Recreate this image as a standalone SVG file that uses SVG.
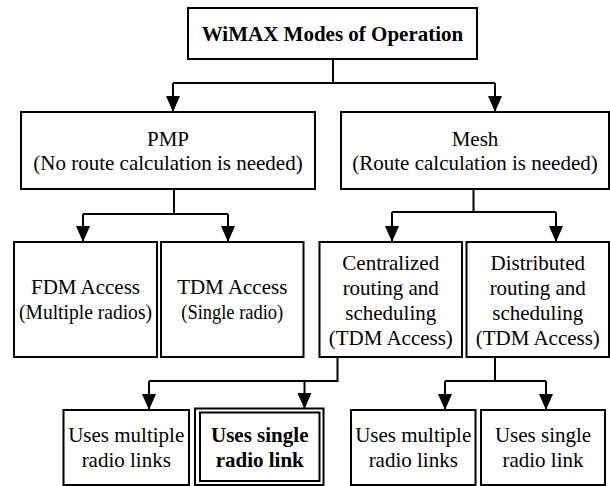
<svg xmlns="http://www.w3.org/2000/svg" width="610" height="486" viewBox="0 0 610 486">
<defs>
<marker id="arr" viewBox="0 0 16 14" refX="16" refY="7" markerWidth="16" markerHeight="14" markerUnits="userSpaceOnUse" orient="auto">
<path d="M0,0 L16,7 L0,14 z" fill="#000"/>
</marker>
<style>
.box{fill:#fff;stroke:#000;stroke-width:2}
text{font-family:"Liberation Serif","Times New Roman",Times,serif;font-size:21px;fill:#000;text-anchor:middle}
.b{font-weight:bold}
.c{fill:none;stroke:#000;stroke-width:2}
</style>
</defs>
<rect width="610" height="486" fill="#fff"/>
<g id="connectors">
<path class="c" d="M333,59 V83 M173,83 H495"/>
<path class="c" d="M173,83 V112" marker-end="url(#arr)"/>
<path class="c" d="M495,83 V112" marker-end="url(#arr)"/>
<path class="c" d="M174,189 V214 M83,214 H228"/>
<path class="c" d="M83,214 V242" marker-end="url(#arr)"/>
<path class="c" d="M228,214 V242" marker-end="url(#arr)"/>
<path class="c" d="M473.5,189 V212 M392,212 H556"/>
<path class="c" d="M392,212 V242" marker-end="url(#arr)"/>
<path class="c" d="M556,212 V242" marker-end="url(#arr)"/>
<path class="c" d="M337.5,357 V381 H149"/>
<path class="c" d="M149,381 V410" marker-end="url(#arr)"/>
<path class="c" d="M304.5,381 V409" marker-end="url(#arr)"/>
<path class="c" d="M495,357 V381 M445,381 H546"/>
<path class="c" d="M445,381 V410" marker-end="url(#arr)"/>
<path class="c" d="M546,381 V410" marker-end="url(#arr)"/>
</g>
<g id="root">
<rect class="box" x="188" y="8" width="289" height="51"/>
<text class="b" x="332.5" y="41">WiMAX Modes of Operation</text>
</g>
<g id="pmp">
<rect class="box" x="21" y="112" width="294" height="77"/>
<text x="168" y="146">PMP</text>
<text x="168" y="170">(No route calculation is needed)</text>
</g>
<g id="mesh">
<rect class="box" x="341" y="112" width="268" height="77"/>
<text x="475" y="146">Mesh</text>
<text x="475" y="170">(Route calculation is needed)</text>
</g>
<g id="fdm">
<rect class="box" x="14" y="242" width="143" height="115"/>
<text x="85.5" y="294">FDM Access</text>
<text x="85.5" y="319" textLength="133" lengthAdjust="spacingAndGlyphs">(Multiple radios)</text>
</g>
<g id="tdm">
<rect class="box" x="161" y="242" width="142.5" height="115"/>
<text x="232.25" y="294">TDM Access</text>
<text x="232.25" y="319" textLength="102" lengthAdjust="spacingAndGlyphs">(Single radio)</text>
</g>
<g id="centralized">
<rect class="box" x="319.5" y="242" width="142.5" height="115"/>
<text x="390.75" y="270">Centralized</text>
<text x="390.75" y="295">routing and</text>
<text x="390.75" y="320">scheduling</text>
<text x="390.75" y="345">(TDM Access)</text>
</g>
<g id="distributed">
<rect class="box" x="466.5" y="242" width="142.5" height="115"/>
<text x="537.75" y="270">Distributed</text>
<text x="537.75" y="295">routing and</text>
<text x="537.75" y="320">scheduling</text>
<text x="537.75" y="345">(TDM Access)</text>
</g>
<g id="c-multiple">
<rect class="box" x="63.5" y="410" width="125.5" height="75"/>
<text x="126.25" y="442">Uses multiple</text>
<text x="126.25" y="467">radio links</text>
</g>
<g id="c-single">
<rect class="box" x="195" y="408.5" width="128.5" height="76.5"/>
<rect class="box" x="200" y="412.5" width="119.5" height="68.5"/>
<text class="b" x="259.75" y="442">Uses single</text>
<text class="b" x="259.75" y="467">radio link</text>
</g>
<g id="d-multiple">
<rect class="box" x="351" y="410" width="124.5" height="75"/>
<text x="413.25" y="442">Uses multiple</text>
<text x="413.25" y="467">radio links</text>
</g>
<g id="d-single">
<rect class="box" x="481" y="410" width="124" height="75"/>
<text x="543" y="442">Uses single</text>
<text x="543" y="467">radio link</text>
</g>
</svg>
